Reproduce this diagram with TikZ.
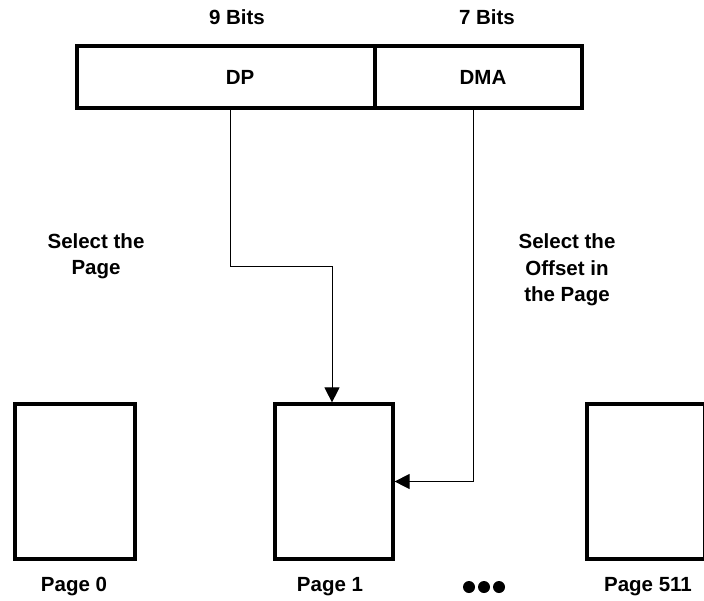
\documentclass[tikz,border=0pt]{standalone}
\usepackage{fontspec}
\setmainfont{Liberation Sans}
\usetikzlibrary{arrows.meta}
\begin{document}
\begin{tikzpicture}[x=1pt,y=-1pt,
  lbl/.style={font=\fontsize{20.5}{26.5}\selectfont\bfseries, align=center, inner sep=0pt},
  field/.style={draw, line width=3.2pt, inner sep=0pt, minimum height=62pt},
  pagebox/.style={draw, line width=3.2pt, inner sep=0pt, minimum height=155pt},
  conn/.style={line width=1pt, -{Triangle[length=15pt,width=15pt]}}]
\useasboundingbox (0,0) rectangle (704,600);
% register fields
\node[field, minimum width=298pt, label={[lbl,xshift=14pt]center:DP}] (dp) at (226,77) {};
\node[field, minimum width=207pt, label={[lbl,xshift=4.5pt]center:DMA}] (dma) at (478.5,77) {};
\node[lbl] (b9) at (237,17) {9 Bits};
\node[lbl] (b7) at (487,17) {7 Bits};
% pages
\node[pagebox, minimum width=120pt] (p0) at (75,481.5) {};
\node[pagebox, minimum width=118pt] (p1) at (334,481.5) {};
\node[pagebox, minimum width=118pt] (p511) at (646,481.5) {};
\node[lbl] (l0) at (74,587) {Page 0};
\node[lbl] (l1) at (330,587) {Page 1};
\node[lbl] (l511) at (648,587) {Page 511};
% dots
\fill (469,587) circle (6);
\fill (484,587) circle (6);
\fill (499,587) circle (6);
% side texts
\node[lbl] (selp) at (96,256) {Select the\\Page};
\node[lbl] (selo) at (567,270) {Select the\\Offset in\\the Page};
% connectors
\draw[conn] ([xshift=155pt]dp.south west) -- ++(0,157) -| ([xshift=-2pt]p1.north);
\draw[conn] ([xshift=100pt]dma.south west) |- (p1.east);
\end{tikzpicture}
\end{document}
